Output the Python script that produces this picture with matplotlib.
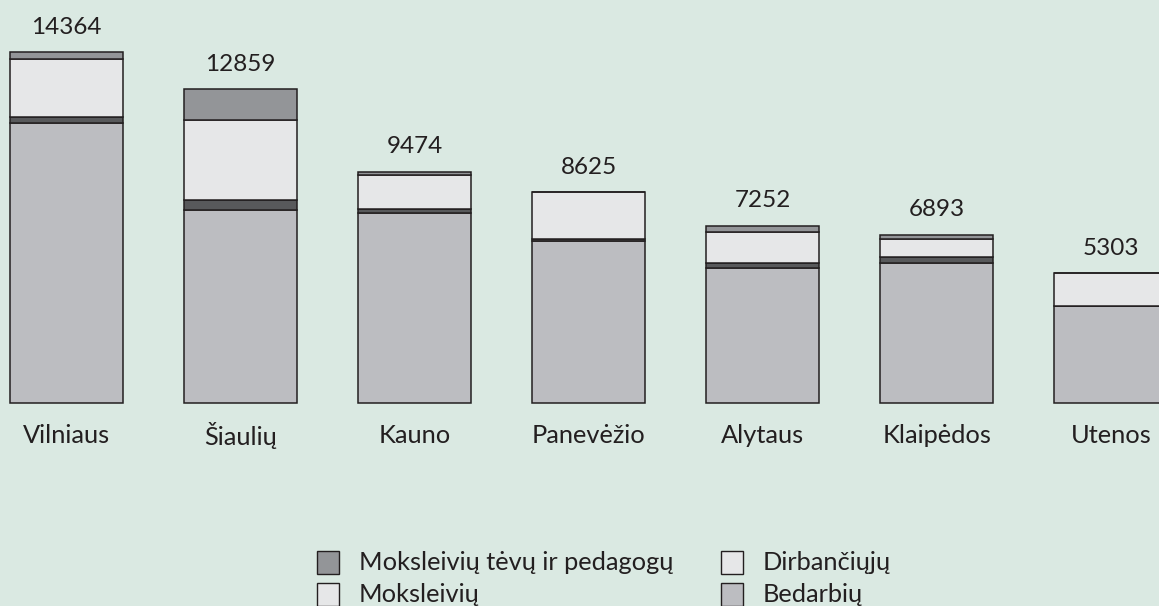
import matplotlib.pyplot as plt
from matplotlib.patches import Rectangle
import numpy as np

plt.rcParams['font.family'] = ['Lato', 'DejaVu Sans']

# Data
regions = ['Vilniaus', 'Šiaulių', 'Kauno', 'Panevėžio', 'Alytaus', 'Klaipėdos', 'Utenos']
totals = [14364, 12859, 9474, 8625, 7252, 6893, 5303]
bedarbiu = [11484, 7879, 7764, 6643, 5515, 5738, 3973]
dirbanciuju = [230, 410, 176, 70, 203, 232, 0]
moksleiviu = [2400, 3300, 1384, 1912, 1290, 745, 1330]
tevu_pedagogu = [250, 1270, 150, 0, 244, 178, 0]

bg = '#DAE9E2'
ink = '#231F20'
c_bed = '#BCBDC1'
c_dirb = '#58595B'
c_moks = '#E6E7E8'
c_tevu = '#939598'

fig = plt.figure(figsize=(11.59, 6.06), dpi=100)
fig.patch.set_facecolor(bg)
ax = fig.add_axes([0, 0, 1, 1])
ax.set_facecolor(bg)

x = np.arange(len(regions))
w = 0.647
kw = dict(width=w, edgecolor=ink, linewidth=1.1)

b = np.zeros(len(regions))
for vals, col in [(bedarbiu, c_bed), (dirbanciuju, c_dirb), (moksleiviu, c_moks), (tevu_pedagogu, c_tevu)]:
    ax.bar(x, vals, bottom=b, color=col, **kw)
    b += np.array(vals)

for xi, t, name in zip(x, totals, regions):
    ax.annotate(str(t), (xi, t), xytext=(0, 18), textcoords='offset points',
                ha='center', va='center', fontsize=17.5, color=ink)
    ax.annotate(name, (xi, 0), xytext=(0, -24), textcoords='offset points',
                ha='center', va='center', fontsize=18.3, color=ink)

ax.set_xlim(-0.383, 6.277)
ax.set_ylim(-8350, 16516)
ax.axis('off')

# legend
items = [
    ('Moksleivių tėvų ir pedagogų', c_tevu, 316.7, 551),
    ('Moksleivių', c_moks, 316.7, 583),
    ('Dirbančiųjų', c_moks, 720.7, 551),
    ('Bedarbių', c_bed, 720.7, 583),
]
W, H = 1159, 606
for label, col, px, py in items:
    sq = 22.5
    fig.patches.append(Rectangle((px / W, 1 - (py + sq) / H), sq / W, sq / H,
                                 transform=fig.transFigure, facecolor=col,
                                 edgecolor=ink, linewidth=1.0))
    fig.text((px + 42) / W, 1 - (py + sq / 2) / H, label, ha='left', va='center',
             fontsize=18.3, color=ink)

fig.savefig('out.png', dpi=100, facecolor=bg)
